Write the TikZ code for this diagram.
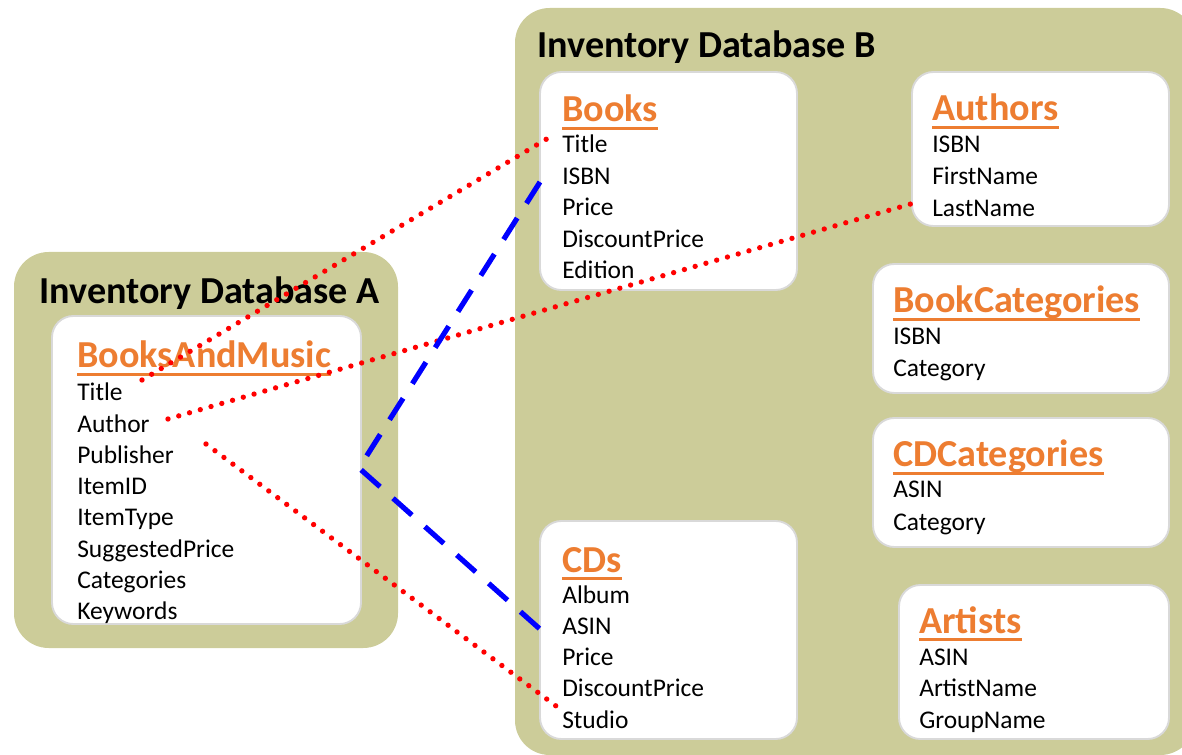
\documentclass[tikz,border=0pt]{standalone}
\usepackage{fontspec}
\setmainfont{Carlito}
\definecolor{panelolive}{RGB}{204,204,153}
\definecolor{hdorange}{RGB}{237,125,49}
\definecolor{boxgray}{RGB}{217,217,217}
\tikzset{
  panel/.style={fill=panelolive, rounded corners=26pt},
  tbl/.style={fill=white, draw=boxgray, line width=1.4pt, rounded corners=16pt},
  dbtitle/.style={anchor=base west, inner sep=0pt, font=\bfseries\fontsize{28.6}{32}\selectfont},
  head/.style={anchor=base west, inner sep=0pt, text=hdorange, font=\bfseries\fontsize{28.6}{32}\selectfont},
  fld/.style={anchor=base west, inner sep=0pt, font=\fontsize{19.1}{23}\selectfont},
  uline/.style={hdorange, line width=2.4pt},
  link/.style={red, line width=4pt, line cap=round, dash pattern=on 0pt off 8.4pt},
  keylink/.style={blue, line width=3.9pt, dash pattern=on 19pt off 13pt, line join=miter},
}
% underlined table heading
\newcommand{\tblhead}[4]{%
  \node[head] (#1) at (#2,#3) {#4};
  \draw[uline] ([yshift=-4.8pt]#1.base west) -- ([yshift=-4.8pt]#1.base east);
}
\begin{document}
\begin{tikzpicture}[x=0.75pt, y=-0.75pt]
\useasboundingbox (0,0) rectangle (1182,755);
\clip (0,0) rectangle (1182,755);

% database containers
\path[panel] (14,252) rectangle (398,648);
\path[panel] (515,8) rectangle (1195,755);

\node[dbtitle] (dbA) at (39,304) {Inventory Database A};
\node[dbtitle] (dbB) at (537,58) {Inventory Database B};

% table cards
\path[tbl] (52,316) rectangle (361,624);
\path[tbl] (540,72) rectangle (797,290);
\path[tbl] (912,72) rectangle (1169,226);
\path[tbl] (873,264) rectangle (1169,393);
\path[tbl] (873,418) rectangle (1169,547);
\path[tbl] (540,521) rectangle (797,739);
\path[tbl] (899,585) rectangle (1169,739);

% BooksAndMusic
\tblhead{hBM}{77}{368}{BooksAndMusic}
\foreach \t [count=\i from 0] in {Title,Author,Publisher,ItemID,ItemType,SuggestedPrice,Categories,Keywords}
  \node[fld] (a-\t) at (77,401+\i*31.2) {\t};

% Books
\tblhead{hBooks}{562}{122}{Books}
\foreach \t [count=\i from 0] in {Title,ISBN,Price,DiscountPrice,Edition}
  \node[fld] (b-\t) at (562,153+\i*31.5) {\t};

% Authors
\tblhead{hAuthors}{932}{121}{Authors}
\foreach \t [count=\i from 0] in {ISBN,FirstName,LastName}
  \node[fld] (au-\t) at (932,153+\i*31.8) {\t};

% BookCategories
\tblhead{hBC}{893}{313}{BookCategories}
\foreach \t [count=\i from 0] in {ISBN,Category}
  \node[fld] (bc-\t) at (893,345+\i*32) {\t};

% CDCategories
\tblhead{hCC}{893}{467}{CDCategories}
\foreach \t [count=\i from 0] in {ASIN,Category}
  \node[fld] (cc-\t) at (893,498+\i*32) {\t};

% CDs
\tblhead{hCDs}{562}{572}{CDs}
\foreach \t [count=\i from 0] in {Album,ASIN,Price,DiscountPrice,Studio}
  \node[fld] (cd-\t) at (562,603+\i*31.3) {\t};

% Artists
\tblhead{hArtists}{919}{633}{Artists}
\foreach \t [count=\i from 0] in {ASIN,ArtistName,GroupName}
  \node[fld] (ar-\t) at (919,665+\i*31.5) {\t};

% connector end points beside the fields
\coordinate (pTitleA) at (142,380);
\coordinate (pAuthorA) at (168,419);
\coordinate (pPubA) at (206,444);
\coordinate (pKeyA) at (359,468);
\coordinate (pTitleB) at (550,137);
\coordinate (pISBNB) at (540,182);
\coordinate (pLastName) at (921,201);
\coordinate (pASIN) at (541,630);
\coordinate (pStudio) at (556,706);

% field mappings
\draw[link] (pTitleA) -- (pTitleB);
\draw[link] (pAuthorA) -- (pLastName);
\draw[link] (pPubA) -- (pStudio);
\draw[keylink] (pISBNB) -- (pKeyA) -- (pASIN);
\end{tikzpicture}
\end{document}
